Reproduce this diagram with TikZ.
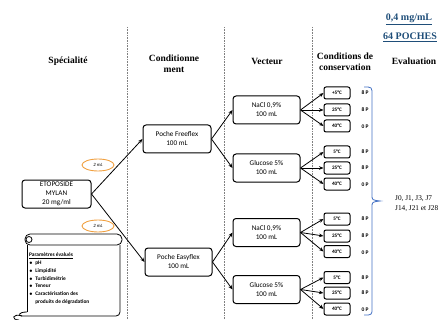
\documentclass[tikz,border=0pt]{standalone}
\usepackage{fontspec}
\setmainfont{Carlito}
\newfontfamily\hdfont{Liberation Serif}
\usetikzlibrary{arrows.meta,shapes.geometric}
\definecolor{hdblue}{HTML}{1F4E79}
\definecolor{brblue}{HTML}{4472C4}
\definecolor{ellor}{HTML}{F0A040}
\begin{document}
\begin{tikzpicture}[x=1pt,y=-1pt,
  box/.style={draw, line width=1pt, rounded corners=3pt, align=center, inner sep=0pt,
    font=\fontsize{7.2}{9}\selectfont},
  tbox/.style={draw, line width=1pt, rounded corners=2pt, inner sep=0pt,
    minimum width=26pt, minimum height=12pt, font=\bfseries\fontsize{5.2}{6}\selectfont},
  plab/.style={font=\bfseries\fontsize{5.5}{6}\selectfont, inner sep=0pt},
  hdr/.style={font=\hdfont\bfseries\fontsize{9.5}{11.5}\selectfont, align=center, inner sep=0pt},
  arr/.style={-{Stealth[length=4.5pt,width=3.6pt]}, line width=0.8pt},
  sep/.style={gray, line width=0.5pt, dash pattern=on 0.8pt off 0.8pt},
  ell/.style={draw=ellor, ellipse, line width=0.9pt, minimum width=32pt, minimum height=12pt,
    inner sep=0pt, font=\itshape\fontsize{4.8}{5}\selectfont},
  sc/.style={line width=0.8pt}]
\useasboundingbox (0,0) rectangle (443,320);

% separators
\draw[sep] (127,27) -- (127,320);
\draw[sep] (224,27) -- (224,320);
\draw[sep] (312,27) -- (312,320);

% headers
\node[hdr] (h1) at (68,61) {Spécialité};
\node[hdr] (h2) at (174,64) {Conditionne\\ment};
\node[hdr] (h3) at (267,61) {Vecteur};
\node[hdr] (h4) at (345,62) {Conditions de\\conservation};
\node[hdr] (h5) at (414,61) {Evaluation};
\node[hdr, text=hdblue, font=\hdfont\bfseries\fontsize{10}{11}\selectfont] (c1) at (409,19) {\underline{0,4 mg/mL}};
\node[hdr, text=hdblue, font=\hdfont\bfseries\fontsize{10}{11}\selectfont] (c2) at (410,37) {\underline{64 POCHES}};

% main boxes
\node[box, minimum width=69pt, minimum height=28pt] (eto) at (56.5,194) {ETOPOSIDE\\MYLAN\\20 mg/ml};
\node[box, minimum width=68pt, minimum height=28pt] (free) at (177,139) {Poche Freeflex\\100 mL};
\node[box, minimum width=67pt, minimum height=28pt] (easy) at (178.5,262) {Poche Easyflex\\100 mL};
\node[box, minimum width=67pt, minimum height=28pt] (n1) at (266.5,110) {NaCl 0,9\%\\100 mL};
\node[box, minimum width=67pt, minimum height=28pt] (g1) at (266.5,168) {Glucose 5\%\\100 mL};
\node[box, minimum width=67pt, minimum height=28pt] (n2) at (266.5,232.5) {NaCl 0,9\%\\100 mL};
\node[box, minimum width=67pt, minimum height=28pt] (g2) at (266.5,289.5) {Glucose 5\%\\100 mL};

% ellipses
\node[ell] (e1) at (98,165) {2 mL};
\node[ell] (e2) at (98,226) {2 mL};

% temperature boxes
\node[tbox] (t1) at (337,93) {+5°C};
\node[tbox] (t2) at (337,110) {25°C};
\node[tbox] (t3) at (337,126) {40°C};
\node[tbox] (t4) at (337,152) {5°C};
\node[tbox] (t5) at (337,168) {25°C};
\node[tbox] (t6) at (337,184) {40°C};
\node[tbox] (t7) at (337,219) {5°C};
\node[tbox] (t8) at (337,236) {25°C};
\node[tbox] (t9) at (337,251.5) {40°C};
\node[tbox] (t10) at (337,277.5) {5°C};
\node[tbox] (t11) at (337,293) {25°C};
\node[tbox] (t12) at (337,309) {40°C};

\node[plab] (p1) at (365,93) {8 P};
\node[plab] (p2) at (365,110) {8 P};
\node[plab] (p3) at (365,127) {0 P};
\node[plab] (p4) at (365,152) {8 P};
\node[plab] (p5) at (365,168) {8 P};
\node[plab] (p6) at (365,185) {0 P};
\node[plab] (p7) at (365,219) {8 P};
\node[plab] (p8) at (365,236) {8 P};
\node[plab] (p9) at (365,252.5) {0 P};
\node[plab] (p10) at (365,277.5) {8 P};
\node[plab] (p11) at (365,293) {8 P};
\node[plab] (p12) at (365,310) {0 P};

% arrows
\draw[arr] (eto.east) -- (free.west);
\draw[arr] (eto.east) -- (easy.west);
\draw[arr] (free.east) -- (n1.west);
\draw[arr] (free.east) -- (g1.west);
\draw[arr] (easy.east) -- (n2.west);
\draw[arr] (easy.east) -- (g2.west);
\foreach \s/\a/\b/\c in {n1/t1/t2/t3, g1/t4/t5/t6, n2/t7/t8/t9, g2/t10/t11/t12}{
  \draw[arr] (\s.east) -- (\a.west);
  \draw[arr] (\s.east) -- (\b.west);
  \draw[arr] (\s.east) -- (\c.west);
}

% bracket
\draw[brblue, line width=0.8pt] (364,87) .. controls (372,87) .. (372,95) -- (372,195)
  .. controls (372,200) .. (380,201) .. controls (372,202) .. (372,207) -- (372,308)
  .. controls (372,315) .. (364,315);
\node[font=\hdfont\fontsize{7.3}{9.5}\selectfont, align=left, anchor=west, inner sep=0pt] (ev) at (395,203.5) {J0, J1, J3, J7\\J14, J21 et J28};

% scroll
\draw[sc, rounded corners=5pt] (25,234) rectangle (122,245);
\draw[sc, fill=white] (29,239.5) circle (3pt);
\draw[sc] (27,245) -- (27,312);
\draw[sc, rounded corners=4pt] (120,245) -- (120,316) -- (22,316);
\draw[sc] (22,316) .. controls (12,313) and (11,320) .. (19,320);
\draw[sc] (22,316) .. controls (18,316) and (18,312) .. (27,312);
\node[anchor=north west, inner sep=0pt, align=left, font=\bfseries\fontsize{5.4}{7.7}\selectfont] (par) at (29,253)
  {\underline{Paramètres évalués}\\
   $\bullet$\ \ pH\\
   $\bullet$\ \ Limpidité\\
   $\bullet$\ \ Turbidimétrie\\
   $\bullet$\ \ Teneur\\
   $\bullet$\ \ Caractérisation des\\
   \phantom{$\bullet$}\ \ produits de dégradation};
\end{tikzpicture}
\end{document}
